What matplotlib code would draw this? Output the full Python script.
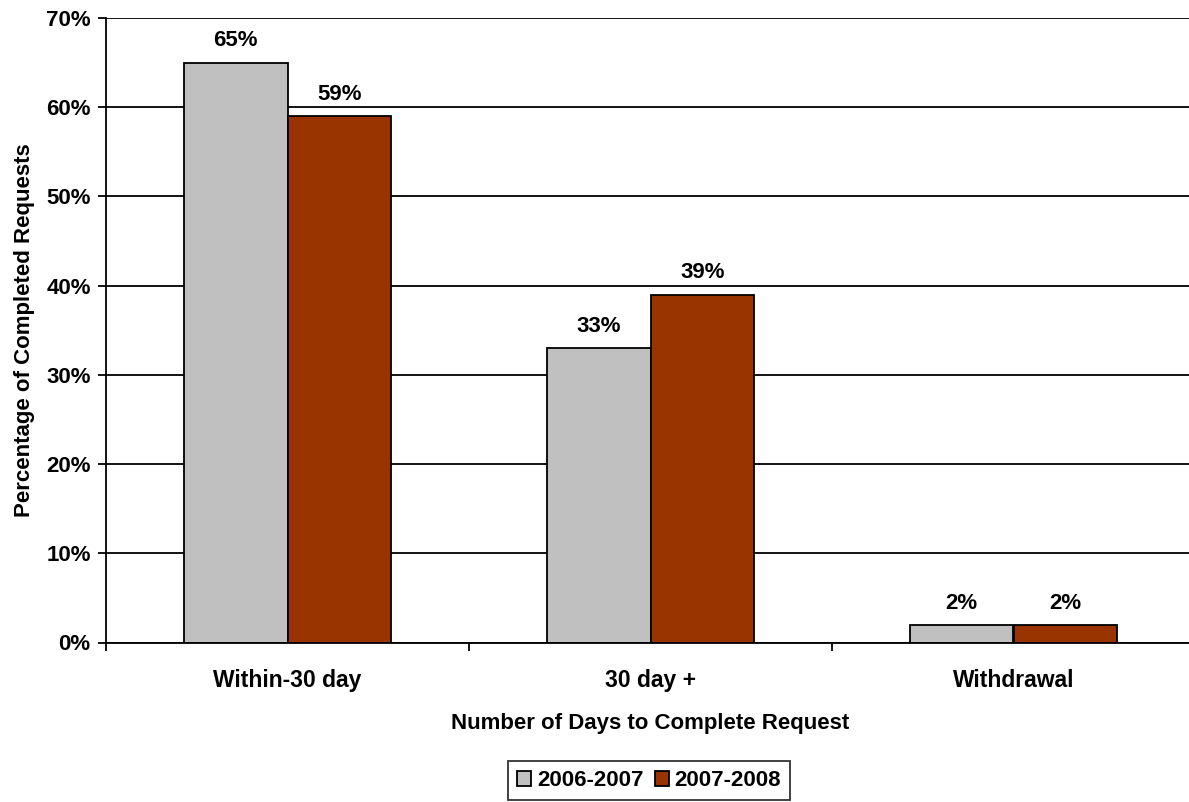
import matplotlib
matplotlib.use("Agg")
import matplotlib.pyplot as plt
import numpy as np
from matplotlib.ticker import FixedLocator, PercentFormatter

plt.rcParams['font.family'] = ['Liberation Sans', 'DejaVu Sans']
plt.rcParams['font.weight'] = 'bold'

categories = ["Within-30 day", "30 day +", "Withdrawal"]
series_names = ["2006-2007", "2007-2008"]
values_2006_2007 = [65, 33, 2]
values_2007_2008 = [59, 39, 2]
y_ticks = [0, 10, 20, 30, 40, 50, 60, 70]

colors = ["#C0C0C0", "#993300"]
W, H = 1189, 802
fig = plt.figure(figsize=(W / 100, H / 100), dpi=100)
ax = fig.add_axes([106 / W, (H - 642.5) / H, (1195 - 106) / W, (642.5 - 18) / H])

x = np.arange(len(categories))
bw = 0.285
for i, (vals, name) in enumerate(zip([values_2006_2007, values_2007_2008], series_names)):
    offs = -bw / 2 if i == 0 else bw / 2
    bars = ax.bar(x + offs, vals, width=bw, color=colors[i], edgecolor="black",
                  linewidth=1.3, label=name, zorder=3)
    for b, v in zip(bars, vals):
        ax.annotate(f"{v}%", (b.get_x() + b.get_width() / 2, v),
                    xytext=(0, 8), textcoords="offset points",
                    ha="center", va="bottom", fontsize=16, fontweight="bold")

ax.set_xlim(-0.5, 2.5)
ax.set_ylim(0, 70)
ax.set_yticks(y_ticks)
ax.yaxis.set_major_formatter(PercentFormatter(decimals=0))
ax.yaxis.grid(True, color="black", linewidth=1.3, zorder=0)
ax.set_axisbelow(True)

# ticks at category boundaries, labels at centers
ax.xaxis.set_major_locator(FixedLocator([-0.5, 0.5, 1.5, 2.5]))
ax.xaxis.set_minor_locator(FixedLocator(x))
ax.xaxis.set_major_formatter(plt.NullFormatter())
ax.set_xticks(x, categories, minor=True)
ax.tick_params(axis="x", which="major", direction="out", length=6, width=1.3, color="black")
ax.tick_params(axis="x", which="minor", length=0, pad=19, labelsize=16.5)
ax.tick_params(axis="y", direction="out", length=6, width=1.3, labelsize=16, pad=5)

for s in ["top", "right"]:
    ax.spines[s].set_visible(False)
for s in ["left", "bottom"]:
    ax.spines[s].set_linewidth(1.3)
    ax.spines[s].set_zorder(4)

ax.set_xlabel("Number of Days to Complete Request", fontsize=16, fontweight="bold", labelpad=15)
ax.set_ylabel("Percentage of Completed Requests", fontsize=16, fontweight="bold", labelpad=8)

leg = fig.legend(loc="lower center", bbox_to_anchor=(649 / W, 2 / H), ncol=2,
                 fontsize=16, frameon=True, fancybox=False, shadow=False,
                 handlelength=0.65, handleheight=0.65, handletextpad=0.25,
                 columnspacing=0.5, borderpad=0.4, borderaxespad=0)
leg.get_frame().set_edgecolor("black")
leg.get_frame().set_linewidth(1.3)
for t in leg.get_texts():
    t.set_fontweight("bold")

fig.savefig("out.png", dpi=100)
